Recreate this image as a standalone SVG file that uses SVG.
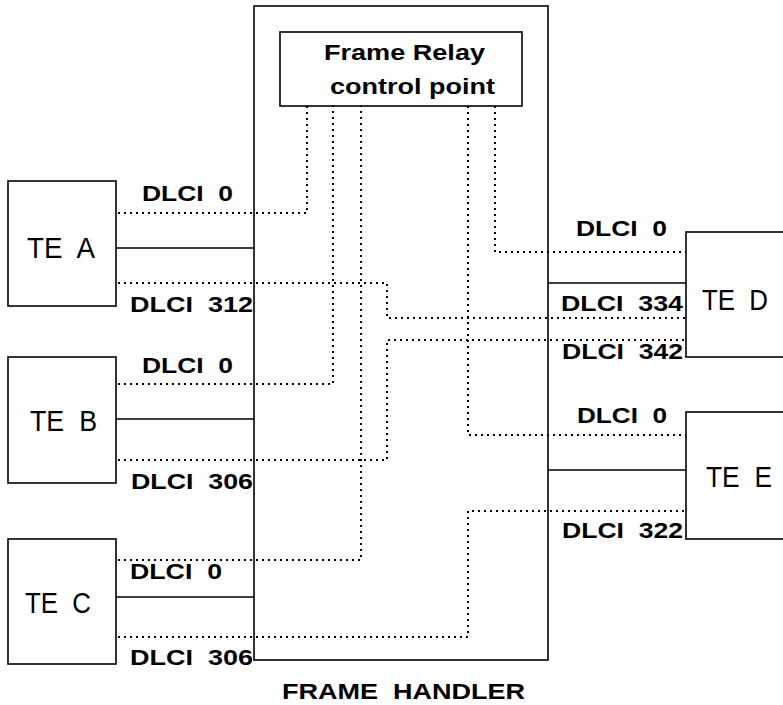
<svg xmlns="http://www.w3.org/2000/svg" width="783" height="705" viewBox="0 0 783 705" xml:space="preserve">
<style>
.box{fill:#fff;stroke:#000;stroke-width:1.6}
.solid{fill:none;stroke:#000;stroke-width:1.6}
.dot{fill:none;stroke:#000;stroke-width:2;stroke-dasharray:2 4}
.te{font-family:"Liberation Sans",Arial,sans-serif;font-size:30px;fill:#000;white-space:pre}
.lbl{font-family:"Liberation Sans",Arial,sans-serif;font-size:22px;font-weight:bold;fill:#000;white-space:pre}
</style>
<rect width="783" height="705" fill="#fff"/>
<g id="frame-handler">
<rect class="box" x="254" y="6" width="294" height="654"/>
<text class="lbl" x="282" y="699" textLength="243" lengthAdjust="spacingAndGlyphs">FRAME  HANDLER</text>
</g>
<g id="control-point">
<rect class="box" x="280" y="32" width="242" height="74"/>
<text class="lbl" x="324" y="60" textLength="161" lengthAdjust="spacingAndGlyphs">Frame Relay</text>
<text class="lbl" x="330" y="94" textLength="165" lengthAdjust="spacingAndGlyphs">control point</text>
</g>
<g id="te-a">
<rect class="box" x="8" y="181" width="108" height="125"/>
<text class="te" x="27" y="258" textLength="68" lengthAdjust="spacingAndGlyphs">TE  A</text>
</g>
<g id="te-b">
<rect class="box" x="8" y="357" width="108" height="126"/>
<text class="te" x="30" y="431" textLength="67" lengthAdjust="spacingAndGlyphs">TE  B</text>
</g>
<g id="te-c">
<rect class="box" x="8" y="539" width="108" height="125"/>
<text class="te" x="25" y="613" textLength="66" lengthAdjust="spacingAndGlyphs">TE  C</text>
</g>
<g id="te-d">
<rect class="box" x="686" y="232" width="110" height="125"/>
<text class="te" x="702" y="310" textLength="66" lengthAdjust="spacingAndGlyphs">TE  D</text>
</g>
<g id="te-e">
<rect class="box" x="686" y="412" width="110" height="127"/>
<text class="te" x="706" y="487" textLength="66" lengthAdjust="spacingAndGlyphs">TE  E</text>
</g>
<g id="connectors">
<path class="dot" d="M118,213 H307 V106"/>
<path class="solid" d="M116,248 H254"/>
<path class="dot" d="M118,283 H387 V318 H686"/>
<path class="dot" d="M118,384 H333 V106"/>
<path class="solid" d="M116,419 H254"/>
<path class="dot" d="M118,460 H387 V340 H686"/>
<path class="dot" d="M118,560 H361 V106"/>
<path class="solid" d="M116,597 H254"/>
<path class="dot" d="M118,637 H468 V511 H686"/>
<path class="dot" d="M495,106 V252 H686"/>
<path class="dot" d="M468,106 V435 H686"/>
<path class="solid" d="M548,283 H686"/>
<path class="solid" d="M548,470 H686"/>
</g>
<g id="labels">
<text class="lbl" x="142" y="201" textLength="91" lengthAdjust="spacingAndGlyphs">DLCI  0</text>
<text class="lbl" x="130" y="312" textLength="123" lengthAdjust="spacingAndGlyphs">DLCI  312</text>
<text class="lbl" x="142" y="373" textLength="91" lengthAdjust="spacingAndGlyphs">DLCI  0</text>
<text class="lbl" x="131" y="489" textLength="122" lengthAdjust="spacingAndGlyphs">DLCI  306</text>
<text class="lbl" x="130" y="579" textLength="92" lengthAdjust="spacingAndGlyphs">DLCI  0</text>
<text class="lbl" x="130" y="665" textLength="123" lengthAdjust="spacingAndGlyphs">DLCI  306</text>
<text class="lbl" x="576" y="236" textLength="91" lengthAdjust="spacingAndGlyphs">DLCI  0</text>
<text class="lbl" x="561" y="311" textLength="122" lengthAdjust="spacingAndGlyphs">DLCI  334</text>
<text class="lbl" x="562" y="359" textLength="121" lengthAdjust="spacingAndGlyphs">DLCI  342</text>
<text class="lbl" x="577" y="423" textLength="90" lengthAdjust="spacingAndGlyphs">DLCI  0</text>
<text class="lbl" x="562" y="538" textLength="121" lengthAdjust="spacingAndGlyphs">DLCI  322</text>
</g>
</svg>
